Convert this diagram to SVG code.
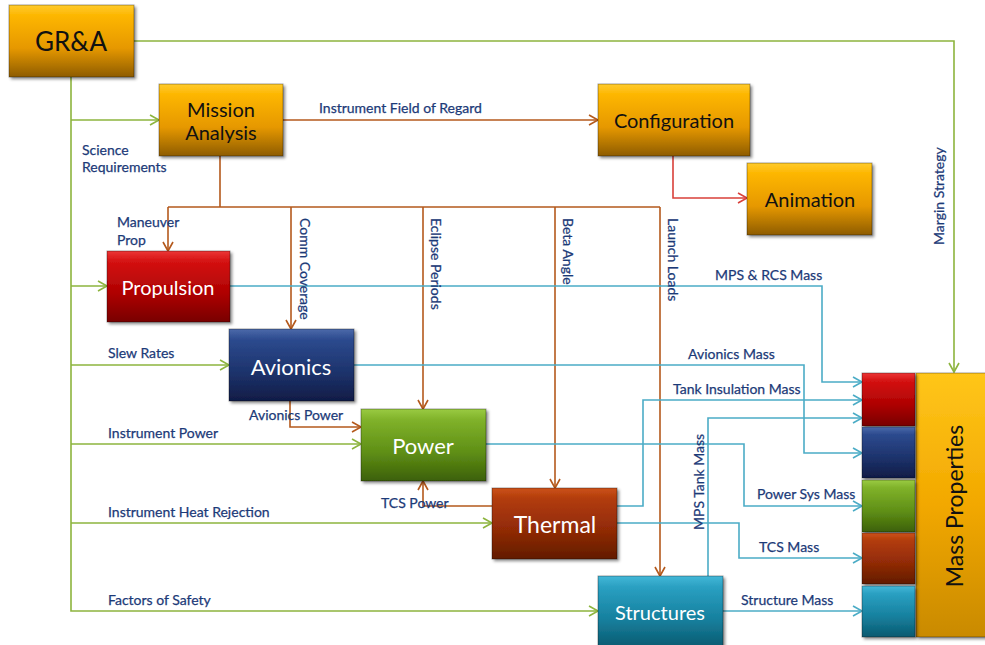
<svg xmlns="http://www.w3.org/2000/svg" width="985" height="645" viewBox="0 0 985 645">
<defs>
<style>
.lbl{font-family:Lato,"Open Sans","Liberation Sans",sans-serif;font-size:14px;fill:#1C3A78;stroke:#1C3A78;stroke-width:0.25}
.nt{font-family:Lato,"Open Sans","Liberation Sans",sans-serif;text-anchor:middle}
.dk{fill:#111}
.wt{fill:#fff}
.box{stroke:#000;stroke-opacity:0.35;stroke-width:1;filter:url(#sh)}
.g{fill:none;stroke:#8DB43E;stroke-width:1.6}
.b{fill:none;stroke:#B4591C;stroke-width:1.6}
.r{fill:none;stroke:#D9403A;stroke-width:1.6}
.c{fill:none;stroke:#4BACC6;stroke-width:1.6}
</style>
<filter id="sh" x="-10%" y="-10%" width="130%" height="130%">
<feDropShadow dx="2" dy="2" stdDeviation="1.5" flood-color="#000" flood-opacity="0.45"/>
</filter>
<linearGradient id="gGold" x1="0" y1="0" x2="0" y2="1">
<stop offset="0" stop-color="#FFCB2E"/><stop offset="0.15" stop-color="#FDB600"/><stop offset="0.6" stop-color="#E69800"/><stop offset="1" stop-color="#8E5C00"/>
</linearGradient>
<linearGradient id="gRed" x1="0" y1="0" x2="0" y2="1">
<stop offset="0" stop-color="#EC3535"/><stop offset="0.15" stop-color="#D41212"/><stop offset="0.6" stop-color="#AE0202"/><stop offset="1" stop-color="#780000"/>
</linearGradient>
<linearGradient id="gNavy" x1="0" y1="0" x2="0" y2="1">
<stop offset="0" stop-color="#4C6AAA"/><stop offset="0.15" stop-color="#2C4A8E"/><stop offset="0.6" stop-color="#1D336C"/><stop offset="1" stop-color="#101C46"/>
</linearGradient>
<linearGradient id="gGreen" x1="0" y1="0" x2="0" y2="1">
<stop offset="0" stop-color="#9ACB42"/><stop offset="0.15" stop-color="#80B22A"/><stop offset="0.6" stop-color="#5F8F16"/><stop offset="1" stop-color="#3C6008"/>
</linearGradient>
<linearGradient id="gBrown" x1="0" y1="0" x2="0" y2="1">
<stop offset="0" stop-color="#CC5218"/><stop offset="0.15" stop-color="#B23C0C"/><stop offset="0.6" stop-color="#902A06"/><stop offset="1" stop-color="#621C03"/>
</linearGradient>
<linearGradient id="gTeal" x1="0" y1="0" x2="0" y2="1">
<stop offset="0" stop-color="#44B8D8"/><stop offset="0.15" stop-color="#2AA0C2"/><stop offset="0.6" stop-color="#16809E"/><stop offset="1" stop-color="#0B5A70"/>
</linearGradient>
<linearGradient id="gMP" x1="0" y1="0" x2="0" y2="1">
<stop offset="0" stop-color="#FFC61A"/><stop offset="0.5" stop-color="#F2A800"/><stop offset="1" stop-color="#C98A00"/>
</linearGradient>
<marker id="ag" markerWidth="12" markerHeight="12" refX="10" refY="6" orient="auto" markerUnits="userSpaceOnUse"><path d="M1,1 L10,6 L1,11" fill="none" stroke="#8DB43E" stroke-width="1.6"/></marker>
<marker id="ab" markerWidth="12" markerHeight="12" refX="10" refY="6" orient="auto" markerUnits="userSpaceOnUse"><path d="M1,1 L10,6 L1,11" fill="none" stroke="#B4591C" stroke-width="1.6"/></marker>
<marker id="ar" markerWidth="12" markerHeight="12" refX="10" refY="6" orient="auto" markerUnits="userSpaceOnUse"><path d="M1,1 L10,6 L1,11" fill="none" stroke="#D9403A" stroke-width="1.6"/></marker>
<marker id="ac" markerWidth="12" markerHeight="12" refX="10" refY="6" orient="auto" markerUnits="userSpaceOnUse"><path d="M1,1 L10,6 L1,11" fill="none" stroke="#4BACC6" stroke-width="1.6"/></marker>
</defs>
<rect width="985" height="645" fill="#fff"/>
<g id="connectors">
<path class="g" d="M134,41 H954 V372" marker-end="url(#ag)"/>
<path class="g" d="M71,77 V611 H598" marker-end="url(#ag)"/>
<path class="g" d="M71,120 H159" marker-end="url(#ag)"/>
<path class="g" d="M71,286 H107" marker-end="url(#ag)"/>
<path class="g" d="M71,365 H229" marker-end="url(#ag)"/>
<path class="g" d="M71,444 H361" marker-end="url(#ag)"/>
<path class="g" d="M71,523 H492" marker-end="url(#ag)"/>
<path class="b" d="M283,120 H598" marker-end="url(#ab)"/>
<path class="b" d="M220,156 V207 M168,207 H660"/>
<path class="b" d="M168,207 V251" marker-end="url(#ab)"/>
<path class="b" d="M291,207 V329" marker-end="url(#ab)"/>
<path class="b" d="M423,207 V409" marker-end="url(#ab)"/>
<path class="b" d="M555,207 V488" marker-end="url(#ab)"/>
<path class="b" d="M660,207 V576" marker-end="url(#ab)"/>
<path class="b" d="M290,401 V427 H361" marker-end="url(#ab)"/>
<path class="b" d="M492,506 H423 V481" marker-end="url(#ab)"/>
<path class="r" d="M673,156 V198 H747" marker-end="url(#ar)"/>
<path class="c" d="M230,286 H822 V382 H862" marker-end="url(#ac)"/>
<path class="c" d="M354,365 H804 V453 H862" marker-end="url(#ac)"/>
<path class="c" d="M486,444 H744 V506 H862" marker-end="url(#ac)"/>
<path class="c" d="M617,506 H643 V400 H862" marker-end="url(#ac)"/>
<path class="c" d="M708,576 V418 H862" marker-end="url(#ac)"/>
<path class="c" d="M617,523 H739 V558 H862" marker-end="url(#ac)"/>
<path class="c" d="M723,611 H862" marker-end="url(#ac)"/>
</g>
<g id="node-gra"><rect class="box" x="9" y="5" width="125" height="72" fill="url(#gGold)"/><text class="nt dk" x="71" y="51" font-size="26">GR&amp;A</text></g>
<g id="node-mission"><rect class="box" x="159" y="84" width="124" height="72" fill="url(#gGold)"/><text class="nt dk" x="221" y="117" font-size="20">Mission</text><text class="nt dk" x="221" y="140" font-size="20">Analysis</text></g>
<g id="node-config"><rect class="box" x="598" y="84" width="152" height="72" fill="url(#gGold)"/><text class="nt dk" x="674" y="128" font-size="20">Configuration</text></g>
<g id="node-animation"><rect class="box" x="747" y="163" width="125" height="72" fill="url(#gGold)"/><text class="nt dk" x="810" y="207" font-size="20">Animation</text></g>
<g id="node-propulsion"><rect class="box" x="107" y="251" width="123" height="71" fill="url(#gRed)"/><text class="nt wt" x="168" y="295" font-size="20">Propulsion</text></g>
<g id="node-avionics"><rect class="box" x="229" y="329" width="125" height="72" fill="url(#gNavy)"/><text class="nt wt" x="291" y="375" font-size="22">Avionics</text></g>
<g id="node-power"><rect class="box" x="361" y="409" width="125" height="72" fill="url(#gGreen)"/><text class="nt wt" x="423" y="454" font-size="22">Power</text></g>
<g id="node-thermal"><rect class="box" x="492" y="488" width="125" height="71" fill="url(#gBrown)"/><text class="nt wt" x="555" y="533" font-size="23">Thermal</text></g>
<g id="node-structures"><rect class="box" x="598" y="576" width="125" height="72" fill="url(#gTeal)"/><text class="nt wt" x="660" y="620" font-size="20">Structures</text></g>
<g id="node-massprops">
<rect class="box" x="916" y="373" width="75" height="264" fill="url(#gMP)"/>
<rect class="box" x="862" y="373" width="53" height="53" fill="url(#gRed)"/>
<rect class="box" x="862" y="427" width="53" height="51" fill="url(#gNavy)"/>
<rect class="box" x="862" y="480" width="53" height="52" fill="url(#gGreen)"/>
<rect class="box" x="862" y="533" width="53" height="51" fill="url(#gBrown)"/>
<rect class="box" x="862" y="586" width="53" height="51" fill="url(#gTeal)"/>
<text class="nt dk" transform="translate(963,506) rotate(-90)" font-size="23">Mass Properties</text>
</g>
<g id="labels">
<text class="lbl" x="82" y="155">Science</text>
<text class="lbl" x="82" y="172">Requirements</text>
<text class="lbl" x="319" y="113">Instrument Field of Regard</text>
<text class="lbl" x="117" y="227">Maneuver</text>
<text class="lbl" x="117" y="245">Prop</text>
<text class="lbl" x="715" y="280">MPS &amp; RCS Mass</text>
<text class="lbl" x="108" y="358">Slew Rates</text>
<text class="lbl" x="688" y="359">Avionics Mass</text>
<text class="lbl" x="249" y="420">Avionics Power</text>
<text class="lbl" x="108" y="438">Instrument Power</text>
<text class="lbl" x="673" y="394">Tank Insulation Mass</text>
<text class="lbl" x="381" y="508">TCS Power</text>
<text class="lbl" x="108" y="517">Instrument Heat Rejection</text>
<text class="lbl" x="757" y="499">Power Sys Mass</text>
<text class="lbl" x="759" y="552">TCS Mass</text>
<text class="lbl" x="108" y="605">Factors of Safety</text>
<text class="lbl" x="741" y="605">Structure Mass</text>
<text class="lbl" transform="translate(300,218) rotate(90)">Comm Coverage</text>
<text class="lbl" transform="translate(431,218) rotate(90)">Eclipse Periods</text>
<text class="lbl" transform="translate(563,218) rotate(90)">Beta Angle</text>
<text class="lbl" transform="translate(668,218) rotate(90)">Launch Loads</text>
<text class="lbl" transform="translate(944,245) rotate(-90)">Margin Strategy</text>
<text class="lbl" transform="translate(704,530) rotate(-90)">MPS Tank Mass</text>
</g>
</svg>
